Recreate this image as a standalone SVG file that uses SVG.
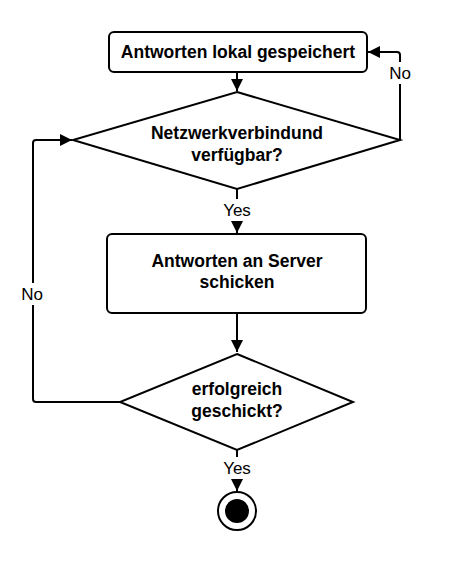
<svg xmlns="http://www.w3.org/2000/svg" width="449" height="563" viewBox="0 0 449 563">
<style>
.node{fill:#fff;stroke:#000;stroke-width:2}
.t{font-family:"Liberation Sans",Arial,sans-serif;font-weight:bold;font-size:17.5px;text-anchor:middle;fill:#000}
.l{font-family:"Liberation Sans",Arial,sans-serif;font-size:17px;text-anchor:middle;fill:#000}
.c{fill:none;stroke:#000;stroke-width:2}
.bg{fill:#fff}
</style>
<defs>
<marker id="arr" viewBox="0 0 12 12" refX="12" refY="6" markerWidth="12" markerHeight="12" markerUnits="userSpaceOnUse" orient="auto">
<path d="M0,0 L12,6 L0,12 Z" fill="#000"/>
</marker>
</defs>
<rect width="449" height="563" fill="#fff"/>
<g id="connectors">
<path class="c" d="M237,72 L237,91" marker-end="url(#arr)"/>
<path class="c" d="M400,140 L400,55 Q400,52 397,52 L368,52" marker-end="url(#arr)"/>
<path class="c" d="M237,189 L237,233" marker-end="url(#arr)"/>
<path class="c" d="M237,313 L237,352" marker-end="url(#arr)"/>
<path class="c" d="M120,402 L36,402 Q33,402 33,399 L33,143 Q33,140 36,140 L72,140" marker-end="url(#arr)"/>
<path class="c" d="M237,450 L237,491" marker-end="url(#arr)"/>
<rect class="bg" x="387" y="62" width="26" height="22"/>
<text class="l" x="400" y="79">No</text>
<rect class="bg" x="220" y="199" width="34" height="22"/>
<text class="l" x="237" y="216">Yes</text>
<rect class="bg" x="19" y="283" width="28" height="22"/>
<text class="l" x="32" y="300">No</text>
<rect class="bg" x="220" y="457" width="34" height="22"/>
<text class="l" x="237" y="474">Yes</text>
</g>
<g id="node-lokal">
<rect class="node" x="109" y="32" width="258" height="40" rx="5"/>
<text class="t" x="238" y="58">Antworten lokal gespeichert</text>
</g>
<g id="node-netz">
<polygon class="node" points="237,92 400,140 237,189 73,140"/>
<text class="t" x="237" y="139">Netzwerkverbindund</text>
<text class="t" x="237" y="161">verfügbar?</text>
</g>
<g id="node-server">
<rect class="node" x="107" y="234" width="259" height="79" rx="5"/>
<text class="t" x="237" y="267">Antworten an Server</text>
<text class="t" x="237" y="288">schicken</text>
</g>
<g id="node-erfolg">
<polygon class="node" points="237,354 353,402 237,450 120,402"/>
<text class="t" x="237" y="395">erfolgreich</text>
<text class="t" x="237" y="417">geschickt?</text>
</g>
<g id="node-end">
<circle class="node" cx="237" cy="511" r="19"/>
<circle cx="237" cy="511" r="12" fill="#000"/>
</g>
</svg>
